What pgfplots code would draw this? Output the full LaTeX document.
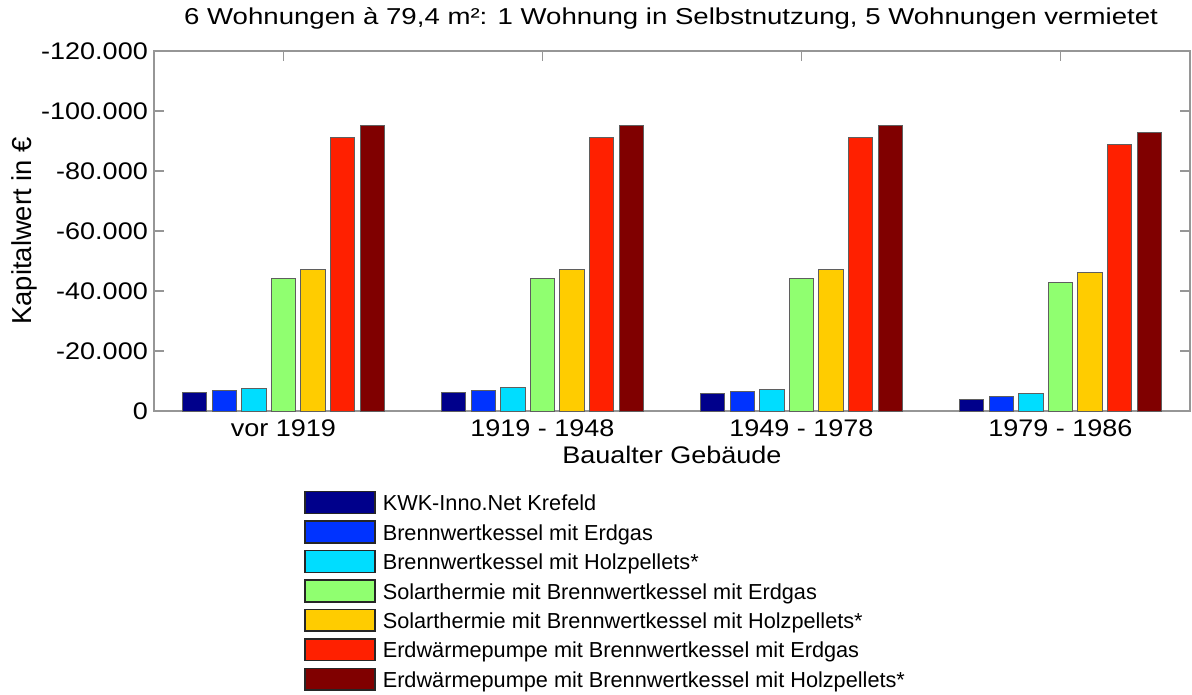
\documentclass[border=0pt]{standalone}
\usepackage{fontspec}
\setmainfont{Liberation Sans}
\newfontfamily\tickfont{Liberation Sans}[FakeStretch=1.125]
\newfontfamily\titlefont{Liberation Sans}[FakeStretch=1.2]
\usepackage{pgfplots}
\pgfplotsset{compat=1.18}
\definecolor{c1}{RGB}{0,0,139}
\definecolor{c2}{RGB}{0,51,255}
\definecolor{c3}{RGB}{0,221,255}
\definecolor{c4}{RGB}{144,255,112}
\definecolor{c5}{RGB}{255,204,0}
\definecolor{c6}{RGB}{255,32,0}
\definecolor{c7}{RGB}{128,0,0}
\definecolor{edge}{RGB}{95,95,95}
\definecolor{frame}{RGB}{150,150,150}
\begin{document}
\begin{tikzpicture}
\useasboundingbox (0pt,0pt) rectangle (1192pt,695pt);
\begin{axis}[
  at={(154pt,284pt)}, anchor=south west,
  scale only axis, width=1036pt, height=360pt,
  xmin=-0.5, xmax=3.5, ymin=-120000, ymax=0, y dir=reverse,
  scaled y ticks=false,
  ybar=5.1pt, bar width=24.5pt,
  xtick={0,1,2,3},
  xticklabels={vor 1919, 1919 - 1948, 1949 - 1978, 1979 - 1986},
  ytick={0,-20000,-40000,-60000,-80000,-100000,-120000},
  yticklabels={0,-20.000,-40.000,-60.000,-80.000,-100.000,-120.000},
  tick align=inside, major tick length=10pt,
  axis line style={draw=frame, line width=1.5pt},
  every tick/.style={draw=frame, line width=1.2pt},
  xticklabel style={font=\fontsize{24}{28}\selectfont\tickfont, anchor=base, yshift=-25.7pt, inner sep=0pt},
  yticklabel style={font=\fontsize{24}{28}\selectfont\tickfont, anchor=east, xshift=-6pt, inner sep=0pt},
  xlabel={Baualter Gebäude},
  xlabel style={font=\fontsize{24}{28}\selectfont\tickfont, at={(axis description cs:0.5,-0.14528)}, anchor=base, inner sep=0pt},
  ylabel={Kapitalwert in €},
  ylabel style={font=\fontsize{27.4}{32}\selectfont, at={(axis description cs:-0.11805,0.5)}, anchor=base, rotate=0, inner sep=0pt},
  title={6 Wohnungen à 79,4 m²: 1 Wohnung in Selbstnutzung, 5 Wohnungen vermietet},
  title style={font=\fontsize{23}{27}\selectfont\titlefont, at={(axis description cs:0.4991,1.0583)}, anchor=base, inner sep=0pt},
  legend style={at={(axis description cs:0.14508,-0.2222)}, anchor=north west, draw=none, fill=none,
    inner sep=0pt, outer sep=0pt, row sep=5.2pt,
    font=\fontsize{21.7}{26}\selectfont,
    nodes={inner sep=0pt, text height=15.5pt, text depth=4.5pt},
    /tikz/every odd column/.append style={column sep=7pt}},
  legend cell align=left,
  legend image code/.code={\draw[#1, draw=black!85, line width=1.5pt] (0pt,-8.2pt) rectangle (70pt,13.5pt);},
]
\addplot[fill=c1, draw=edge, line width=1pt] coordinates {(0,-6100) (1,-6100) (2,-6000) (3,-4000)};
\addplot[fill=c2, draw=edge, line width=1pt] coordinates {(0,-6900) (1,-6900) (2,-6600) (3,-5000)};
\addplot[fill=c3, draw=edge, line width=1pt] coordinates {(0,-7400) (1,-7700) (2,-7300) (3,-5700)};
\addplot[fill=c4, draw=edge, line width=1pt] coordinates {(0,-44100) (1,-44100) (2,-44100) (3,-42800)};
\addplot[fill=c5, draw=edge, line width=1pt] coordinates {(0,-47300) (1,-47300) (2,-47300) (3,-46300)};
\addplot[fill=c6, draw=edge, line width=1pt] coordinates {(0,-91000) (1,-91000) (2,-91000) (3,-88900)};
\addplot[fill=c7, draw=edge, line width=1pt] coordinates {(0,-95000) (1,-95200) (2,-95000) (3,-92900)};
\legend{KWK-Inno.Net Krefeld, Brennwertkessel mit Erdgas, Brennwertkessel mit Holzpellets*, Solarthermie mit Brennwertkessel mit Erdgas, Solarthermie mit Brennwertkessel mit Holzpellets*, Erdwärmepumpe mit Brennwertkessel mit Erdgas, Erdwärmepumpe mit Brennwertkessel mit Holzpellets*}
\end{axis}
\end{tikzpicture}
\end{document}
